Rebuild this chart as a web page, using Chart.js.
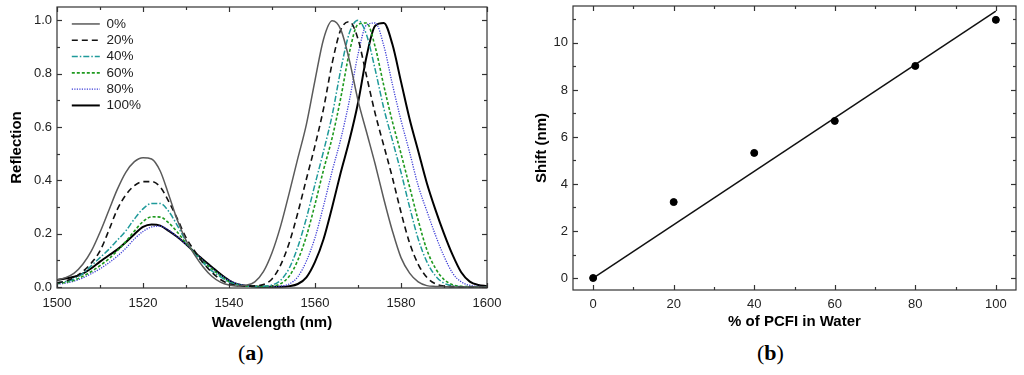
<!DOCTYPE html>
<html>
<head>
<meta charset="utf-8">
<script src="https://cdn.jsdelivr.net/npm/chart.js@4.4.1/dist/chart.umd.min.js"></script>
<style>
body { margin:0; background:#fff; width:1024px; height:375px; overflow:hidden; position:relative; }
#chartA { position:absolute; left:0; top:0; }
#chartB { position:absolute; left:512px; top:0; }
.panel { position:absolute; top:340px; font-family:'Liberation Serif','Times New Roman',serif; font-size:22px; line-height:26px; color:#000; }
</style>
</head>
<body>
<canvas id="chartA" width="504" height="335"></canvas>
<canvas id="chartB" width="512" height="335"></canvas>
<div class="panel" style="left:238px">(<b>a</b>)</div>
<div class="panel" style="left:757px">(<b>b</b>)</div>
<script>
// panel (a): reflection spectra, sampled every 2 nm
const wavelength = [
  1500,1502,1504,1506,1508,1510,1512,1514,1516,1518,
  1520,1522,1524,1526,1528,1530,1532,1534,1536,1538,
  1540,1542,1544,1546,1548,1550,1552,1554,1556,1558,
  1560,1562,1564,1566,1568,1570,1572,1574,1576,1578,
  1580,1582,1584,1586,1588,1590,1592,1594,1596,1598,
  1600
];
const r0 = [
  0.026,0.035,0.052,0.085,0.135,0.205,0.285,0.365,0.43,0.47,
  0.485,0.48,0.435,0.345,0.25,0.175,0.12,0.075,0.04,0.018,
  0.007,0.003,0.006,0.019,0.057,0.128,0.228,0.352,0.482,0.61,
  0.775,0.93,0.998,0.965,0.85,0.70,0.58,0.46,0.33,0.21,
  0.11,0.052,0.019,0.005,0.002,0.001,0,0,0,0,
  0
];
const r20 = [
  0.015,0.022,0.035,0.058,0.09,0.135,0.21,0.29,0.345,0.38,
  0.395,0.395,0.375,0.32,0.255,0.185,0.135,0.09,0.055,0.028,
  0.012,0.005,0.003,0.004,0.009,0.03,0.082,0.165,0.278,0.405,
  0.53,0.67,0.84,0.965,0.995,0.93,0.79,0.65,0.53,0.41,
  0.28,0.165,0.085,0.036,0.012,0.003,0.001,0,0,0,
  0
];
const r40 = [
  0.015,0.02,0.03,0.05,0.08,0.11,0.14,0.175,0.21,0.255,
  0.293,0.313,0.313,0.283,0.23,0.172,0.125,0.09,0.06,0.038,
  0.018,0.008,0.003,0.002,0.003,0.007,0.025,0.07,0.15,0.258,
  0.385,0.51,0.645,0.815,0.953,1.0,0.945,0.815,0.67,0.55,
  0.43,0.3,0.18,0.095,0.042,0.014,0.004,0.001,0,0,
  0
];
const r60 = [
  0.012,0.017,0.025,0.04,0.058,0.08,0.105,0.135,0.17,0.21,
  0.245,0.263,0.262,0.24,0.205,0.165,0.128,0.095,0.068,0.042,
  0.02,0.008,0.003,0.002,0.001,0.003,0.012,0.04,0.10,0.19,
  0.31,0.44,0.56,0.71,0.88,0.985,0.99,0.9,0.755,0.62,
  0.5,0.375,0.25,0.14,0.07,0.028,0.008,0.002,0.001,0,
  0
];
const r80 = [
  0.01,0.014,0.022,0.034,0.05,0.068,0.09,0.115,0.145,0.18,
  0.208,0.225,0.228,0.212,0.188,0.16,0.13,0.098,0.07,0.045,
  0.025,0.012,0.005,0.002,0.001,0.001,0.003,0.011,0.038,0.097,
  0.185,0.305,0.435,0.555,0.70,0.872,0.983,0.99,0.905,0.76,
  0.625,0.505,0.38,0.285,0.195,0.115,0.052,0.019,0.006,0.002,
  0.001
];
const r100 = [
  0.026,0.032,0.038,0.05,0.07,0.095,0.118,0.14,0.168,0.198,
  0.225,0.234,0.23,0.21,0.187,0.16,0.13,0.102,0.075,0.048,
  0.025,0.01,0.004,0.002,0.001,0.001,0.001,0.003,0.011,0.036,
  0.094,0.18,0.3,0.43,0.55,0.69,0.865,0.98,0.99,0.91,
  0.77,0.63,0.51,0.39,0.29,0.2,0.12,0.055,0.02,0.007,
  0.003
];
const seriesLabels = ['0%', '20%', '40%', '60%', '80%', '100%'];

const xMajorA = [1500, 1520, 1540, 1560, 1580, 1600];
const xMinorA = [1510, 1530, 1550, 1570, 1590];
const yMajorA = [0, 0.2, 0.4, 0.6, 0.8, 1.0];
const yMinorA = [0.1, 0.3, 0.5, 0.7, 0.9];

// panel (b): shift vs concentration
const pcfi = [0, 20, 40, 60, 80, 100];
const shift = [0, 3.23, 5.32, 6.68, 9.02, 10.98];
const fitX = [0, 100];
const fitY = [0, 11.35];

const xMajorB = [0, 20, 40, 60, 80, 100];
const xMinorB = [10, 30, 50, 70, 90];
const yMajorB = [0, 2, 4, 6, 8, 10];
const yMinorB = [1, 3, 5, 7, 9, 11];

Chart.defaults.font.family = "'Liberation Sans', Arial, sans-serif";
Chart.defaults.font.size = 13;
Chart.defaults.color = '#222';

// box around plot + inward ticks like Origin
const frameTicks = {
  id: 'frameTicks',
  afterDatasetsDraw(chart, args, opts) {
    const ctx = chart.ctx;
    const a = chart.chartArea;
    const sx = chart.scales.x, sy = chart.scales.y;
    ctx.save();
    ctx.strokeStyle = '#333';
    ctx.lineWidth = 1.2;
    ctx.setLineDash([]);
    ctx.strokeRect(a.left, a.top, a.right - a.left, a.bottom - a.top);
    function seg(x1, y1, x2, y2) {
      ctx.beginPath(); ctx.moveTo(x1, y1); ctx.lineTo(x2, y2); ctx.stroke();
    }
    function xt(vals, len) {
      vals.forEach(v => {
        const px = Math.round(sx.getPixelForValue(v)) + 0.5;
        seg(px, a.bottom, px, a.bottom - len);
        seg(px, a.top, px, a.top + len);
      });
    }
    function yt(vals, len) {
      vals.forEach(v => {
        const py = Math.round(sy.getPixelForValue(v)) + 0.5;
        seg(a.left, py, a.left + len, py);
        seg(a.right, py, a.right - len, py);
      });
    }
    xt(opts.xMajor, 5); xt(opts.xMinor, 3);
    yt(opts.yMajor, 5); yt(opts.yMinor, 3);
    ctx.restore();
  }
};

// nudge the in-plot legend away from the left frame
const legendShift = {
  id: 'legendShift',
  afterLayout(chart) {
    if (chart.legend) {
      chart.legend.left += 12;
    }
  }
};

const titleFont = { size: 15, weight: 'bold' };

const styleA = [
  { data: r0,   color: '#5a5a5a', width: 1.5, dash: [] },
  { data: r20,  color: '#111111', width: 1.6, dash: [6, 4] },
  { data: r40,  color: '#1f9a9a', width: 1.5, dash: [6, 2, 1.5, 2] },
  { data: r60,  color: '#1f9a1f', width: 1.6, dash: [3, 2] },
  { data: r80,  color: '#3b3bd6', width: 1.3, dash: [1.2, 1.3] },
  { data: r100, color: '#000000', width: 2,   dash: [] }
];

new Chart(document.getElementById('chartA'), {
  type: 'line',
  data: {
    datasets: styleA.map((s, i) => ({
      label: seriesLabels[i],
      data: wavelength.map((w, j) => ({ x: w, y: s.data[j] })),
      borderColor: s.color,
      backgroundColor: s.color,
      borderWidth: s.width,
      borderDash: s.dash,
      pointRadius: 0,
      fill: false,
      cubicInterpolationMode: 'monotone'
    }))
  },
  options: {
    responsive: false,
    animation: false,
    layout: { padding: { top: 7, right: 17, bottom: 0, left: 0 } },
    scales: {
      x: {
        type: 'linear', min: 1500, max: 1600,
        grid: { display: false, drawTicks: false },
        border: { display: false },
        ticks: { padding: 8, callback: v => String(v) },
        afterBuildTicks: s => { s.ticks = xMajorA.map(v => ({ value: v })); },
        afterFit: s => { s.height = 47; s.paddingLeft = 0; s.paddingRight = 0; },
        title: { display: true, text: 'Wavelength (nm)', font: titleFont, color: '#000', padding: { top: 0, bottom: 3 } }
      },
      y: {
        type: 'linear', min: -0.004, max: 1.05,
        grid: { display: false, drawTicks: false },
        border: { display: false },
        ticks: { padding: 5, callback: v => v.toFixed(1) },
        afterBuildTicks: s => { s.ticks = yMajorA.map(v => ({ value: v })); },
        afterFit: s => { s.width = 57; s.paddingTop = 0; s.paddingBottom = 0; },
        title: { display: true, text: 'Reflection', font: titleFont, color: '#000', padding: { top: 8, bottom: 0 } }
      }
    },
    plugins: {
      legend: {
        position: 'chartArea',
        align: 'start',
        title: { display: true, text: ' ', font: { size: 12 }, padding: 0 },
        labels: {
          usePointStyle: true,
          pointStyle: 'line',
          pointStyleWidth: 28,
          padding: 2.8,
          color: '#222',
          font: { size: 13.5 },
          generateLabels: chart => Chart.defaults.plugins.legend.labels.generateLabels(chart).map(item => {
            const ds = chart.data.datasets[item.datasetIndex];
            item.lineDash = ds.borderDash;
            item.lineWidth = ds.borderWidth;
            item.strokeStyle = ds.borderColor;
            return item;
          })
        }
      },
      tooltip: { enabled: false },
      frameTicks: { xMajor: xMajorA, xMinor: xMinorA, yMajor: yMajorA, yMinor: yMinorA }
    }
  },
  plugins: [frameTicks, legendShift]
});

new Chart(document.getElementById('chartB'), {
  type: 'scatter',
  data: {
    datasets: [
      {
        label: 'Shift',
        data: pcfi.map((p, i) => ({ x: p, y: shift[i] })),
        pointRadius: 3.5,
        pointBackgroundColor: '#000',
        pointBorderColor: '#000',
        showLine: false
      },
      {
        label: 'Fit',
        data: fitX.map((p, i) => ({ x: p, y: fitY[i] })),
        showLine: true,
        pointRadius: 0,
        borderColor: '#111',
        borderWidth: 1.5
      }
    ]
  },
  options: {
    responsive: false,
    animation: false,
    layout: { padding: { top: 6, right: 8, bottom: 0, left: 0 } },
    scales: {
      x: {
        type: 'linear', min: -5, max: 105,
        grid: { display: false, drawTicks: false },
        border: { display: false },
        ticks: { padding: 7, callback: v => String(v) },
        afterBuildTicks: s => { s.ticks = xMajorB.map(v => ({ value: v })); },
        afterFit: s => { s.height = 45; s.paddingLeft = 0; s.paddingRight = 0; },
        title: { display: true, text: '% of PCFI in Water', font: titleFont, color: '#000', padding: { top: 0, bottom: 4 } }
      },
      y: {
        type: 'linear', min: -0.51, max: 11.57,
        grid: { display: false, drawTicks: false },
        border: { display: false },
        ticks: { padding: 5, callback: v => String(v) },
        afterBuildTicks: s => { s.ticks = yMajorB.map(v => ({ value: v })); },
        afterFit: s => { s.width = 61; s.paddingTop = 0; s.paddingBottom = 0; },
        title: { display: true, text: 'Shift (nm)', font: titleFont, color: '#000', padding: { top: 21, bottom: 0 } }
      }
    },
    plugins: {
      legend: { display: false },
      tooltip: { enabled: false },
      frameTicks: { xMajor: xMajorB, xMinor: xMinorB, yMajor: yMajorB, yMinor: yMinorB }
    }
  },
  plugins: [frameTicks]
});
</script>
</body>
</html>
